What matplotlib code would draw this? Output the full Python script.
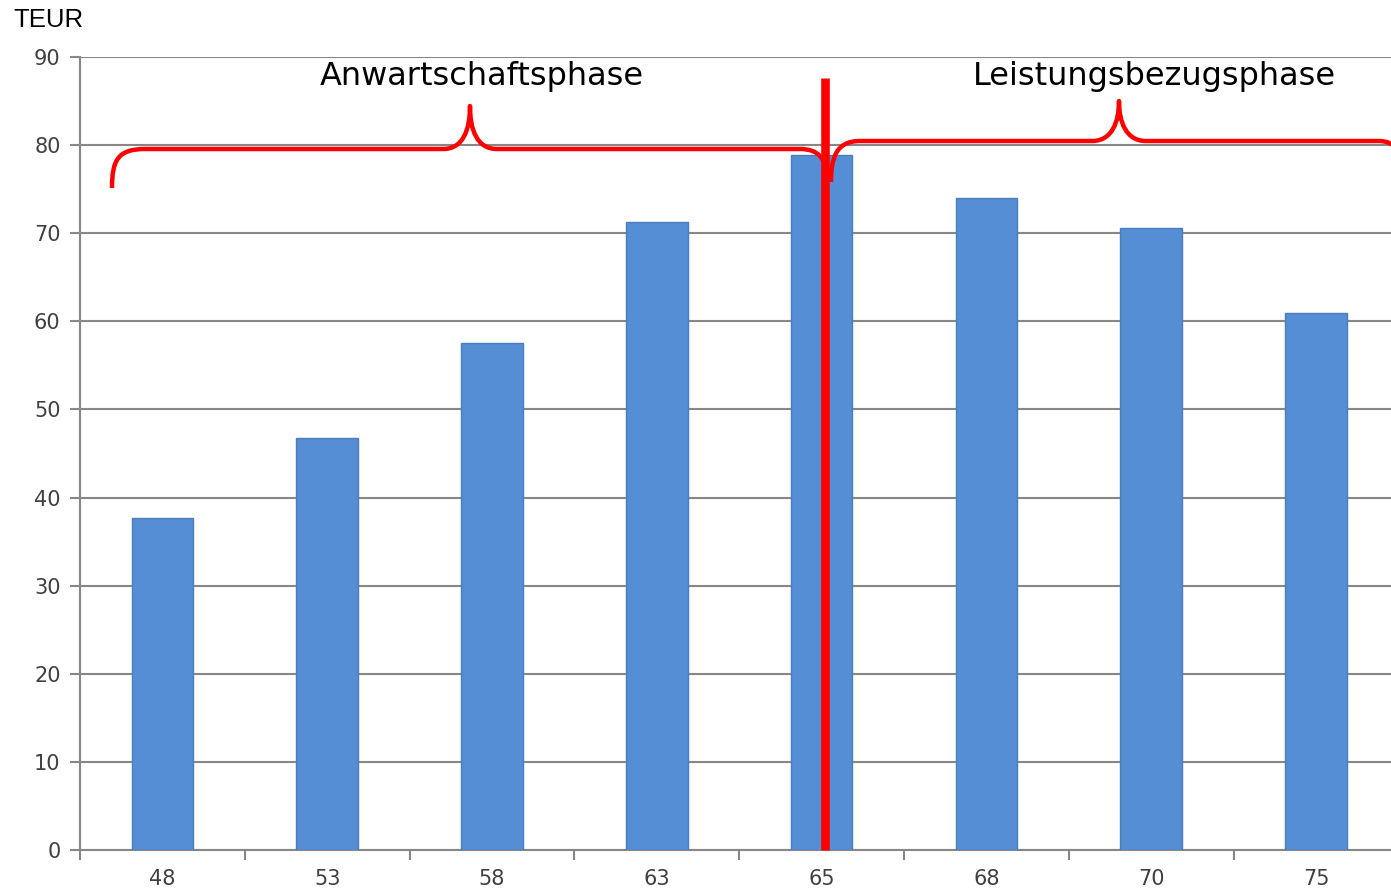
import matplotlib
matplotlib.use("Agg")
import matplotlib.pyplot as plt
from matplotlib.path import Path
from matplotlib.patches import PathPatch

categories = ["48", "53", "58", "63", "65", "68", "70", "75"]
values = [37.7, 46.8, 57.5, 71.3, 78.9, 74.0, 70.6, 60.95]
y_ticks = [0, 10, 20, 30, 40, 50, 60, 70, 80, 90]
phase_labels = ["Anwartschaftsphase", "Leistungsbezugsphase"]
unit_label = "TEUR"

W, H = 1391, 891
SLOT = 164.8
AX_L, AX_T, AX_B = 80, 57, 850
ax_w = SLOT * len(categories)
fig = plt.figure(figsize=(W / 100, H / 100), dpi=100)
ax = fig.add_axes([AX_L / W, (H - AX_B) / H, ax_w / W, (AX_B - AX_T) / H])

grid_c = "#878787"
x = list(range(len(categories)))
ax.bar(x, values, width=0.373, color="#558ED5", edgecolor="#4A7EBB",
       linewidth=1.0, zorder=3)

ax.set_xlim(-0.5, len(categories) - 0.5)
ax.set_ylim(0, 90)
ax.set_yticks(y_ticks)
ax.yaxis.grid(True, color=grid_c, linewidth=1.5, zorder=1)
ax.set_axisbelow(True)

ax.set_xticks(x)
ax.set_xticklabels(categories)
ax.set_xticks([i - 0.5 for i in range(len(categories) + 1)], minor=True)
ax.tick_params(axis="x", which="major", length=0, pad=14, labelsize=15,
               labelcolor="#404040")
ax.tick_params(axis="x", which="minor", length=7, width=1.5, color=grid_c,
               direction="out")
ax.tick_params(axis="y", length=7, width=1.5, color=grid_c, pad=7,
               labelsize=15, labelcolor="#404040")
for s in ["top", "right"]:
    ax.spines[s].set_visible(False)
for s in ["left", "bottom"]:
    ax.spines[s].set_color(grid_c)
    ax.spines[s].set_linewidth(1.5)


def px2data(px, py):
    # pixel coords (origin top-left) -> data coords
    xd = (px - AX_L) / SLOT - 0.5
    yd = (AX_B - py) / ((AX_B - AX_T) / 90)
    return (xd, yd)


def brace(pts_codes):
    verts = [px2data(*p) for p, c in pts_codes]
    codes = [c for p, c in pts_codes]
    return PathPatch(Path(verts, codes), facecolor="none", edgecolor="#FF0000",
                     linewidth=3.2, capstyle="butt", joinstyle="round",
                     zorder=6, clip_on=False)


M, L, C = Path.MOVETO, Path.LINETO, Path.CURVE4
left_brace = [
    ((112, 188), M),
    ((112, 160), C), ((118, 149), C), ((145, 149), C),
    ((443, 149), L),
    ((463, 149), C), ((470, 130), C), ((470, 106), C),
    ((470, 130), C), ((477, 149), C), ((497, 149), C),
    ((800, 149), L),
    ((820, 149), C), ((827, 160), C), ((827, 182), C),
]
right_brace = [
    ((831, 182), M),
    ((831, 158), C), ((836, 141), C), ((860, 141), C),
    ((1092, 141), L),
    ((1112, 141), C), ((1119, 122), C), ((1119, 101), C),
    ((1119, 122), C), ((1126, 141), C), ((1146, 141), C),
    ((1378, 141), L),
    ((1396, 141), C), ((1400, 150), C), ((1400, 175), C),
]
ax.add_patch(brace(left_brace))
ax.add_patch(brace(right_brace))

# red dividing line
x0, ytop = px2data(825, 78)
ax.plot([x0, x0], [0, ytop], color="#FF0000", linewidth=6.2,
        solid_capstyle="butt", zorder=7, clip_on=False)

tx, ty = px2data(482, 77)
ax.text(tx, ty, phase_labels[0], fontsize=23, ha="center", va="center",
        color="black", zorder=8)
tx, ty = px2data(1154, 77)
ax.text(tx, ty, phase_labels[1], fontsize=23, ha="center", va="center",
        color="black", zorder=8)

fig.text(13 / W, 1 - 20 / H, unit_label, fontsize=18.5, ha="left", va="center",
         family=["Liberation Sans", "DejaVu Sans"], color="black")

fig.savefig("out.png", dpi=100)
